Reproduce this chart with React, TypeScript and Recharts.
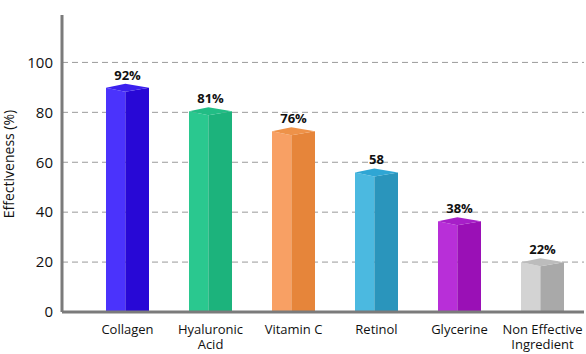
import { BarChart, Bar, XAxis, YAxis, CartesianGrid, LabelList } from 'recharts';

const ingredients = ['Collagen', 'Hyaluronic\nAcid', 'Vitamin C', 'Retinol', 'Glycerine', 'Non Effective\nIngredient'];
// bar heights (peak of the cube top)
const effectiveness = [91.5, 82, 74, 57.5, 38, 21.5];
const valueLabels = ['92%', '81%', '76%', '58', '38%', '22%'];
const yTicks = [0, 20, 40, 60, 80, 100];
const gridValues = [20, 40, 60, 80, 100];

const leftColors = ['#4b33fc', '#2ac88f', '#f8a064', '#4bb9e0', '#b82fd8', '#d3d3d3'];
const rightColors = ['#2808d6', '#1cb37c', '#e6853a', '#2a95bc', '#9a10b6', '#a9a9a9'];
const topColors = ['#3b20ee', '#22bd85', '#ee9249', '#2fa6d4', '#a71fc8', '#bcbcbc'];

const data = ingredients.map((name, i) => ({
  name,
  value: effectiveness[i],
  label: valueLabels[i],
}));

const FONT = '"Open Sans", sans-serif';
const AXIS_GRAY = '#7b7b7b';

const CubeBar = (props: any) => {
  const { x, y, width, height, index } = props;
  if (!height) return null;
  const bottom = y + height;
  const mid = x + width * 0.45;
  const d = 4;
  return (
    <g>
      <polygon
        points={`${x},${y + d} ${mid},${y + 2 * d} ${mid},${bottom} ${x},${bottom}`}
        fill={leftColors[index]}
      />
      <polygon
        points={`${mid},${y + 2 * d} ${x + width},${y + d} ${x + width},${bottom} ${mid},${bottom}`}
        fill={rightColors[index]}
      />
      <polygon
        points={`${x},${y + d} ${mid},${y} ${x + width},${y + d} ${mid},${y + 2 * d}`}
        fill={topColors[index]}
      />
    </g>
  );
};

const renderValueLabel = (props: any) => {
  const { x, y, width, value } = props;
  return (
    <text
      x={x + width / 2}
      y={y - 4}
      textAnchor="middle"
      fontFamily={FONT}
      fontWeight={700}
      fontSize={13}
      fill="#111"
    >
      {value}
    </text>
  );
};

const CategoryTick = (props: any) => {
  const { x, y, payload } = props;
  const lines = String(payload.value).split('\n');
  return (
    <g>
      {lines.map((line, i) => (
        <text
          key={i}
          x={x}
          y={y + 22 + i * 15}
          textAnchor="middle"
          fontFamily={FONT}
          fontSize={13}
          fill="#111"
        >
          {line}
        </text>
      ))}
    </g>
  );
};

const renderYLabel = () => (
  <text
    x={14}
    y={164}
    transform="rotate(-90, 14, 164)"
    textAnchor="middle"
    fontFamily={FONT}
    fontSize={14}
    fill="#111"
  >
    Effectiveness (%)
  </text>
);

export default function App() {
  return (
    <div style={{ position: 'absolute', left: 0, top: 0, background: '#fff' }}>
      <BarChart
        width={586}
        height={354}
        data={data}
        margin={{ top: 15, right: 2, bottom: 0, left: 0 }}
        barSize={43}
      >
        <CartesianGrid
          horizontal
          vertical={false}
          horizontalValues={gridValues}
          stroke="#9a9a9a"
          strokeDasharray="6 4"
        />
        <XAxis
          dataKey="name"
          height={42}
          interval={0}
          padding={{ left: 24, right: 0 }}
          tickLine={false}
          tickSize={0}
          tickMargin={0}
          axisLine={{ stroke: AXIS_GRAY, strokeWidth: 3 }}
          tick={<CategoryTick />}
        />
        <YAxis
          width={62}
          domain={[0, 119]}
          ticks={yTicks}
          tickLine={false}
          tickSize={0}
          tickMargin={9}
          axisLine={{ stroke: AXIS_GRAY, strokeWidth: 3 }}
          tick={{ fontFamily: FONT, fontSize: 15, fill: '#111' }}
          label={{ content: renderYLabel }}
        />
        <Bar dataKey="value" shape={<CubeBar />} isAnimationActive={false}>
          <LabelList dataKey="label" content={renderValueLabel} />
        </Bar>
      </BarChart>
    </div>
  );
}
